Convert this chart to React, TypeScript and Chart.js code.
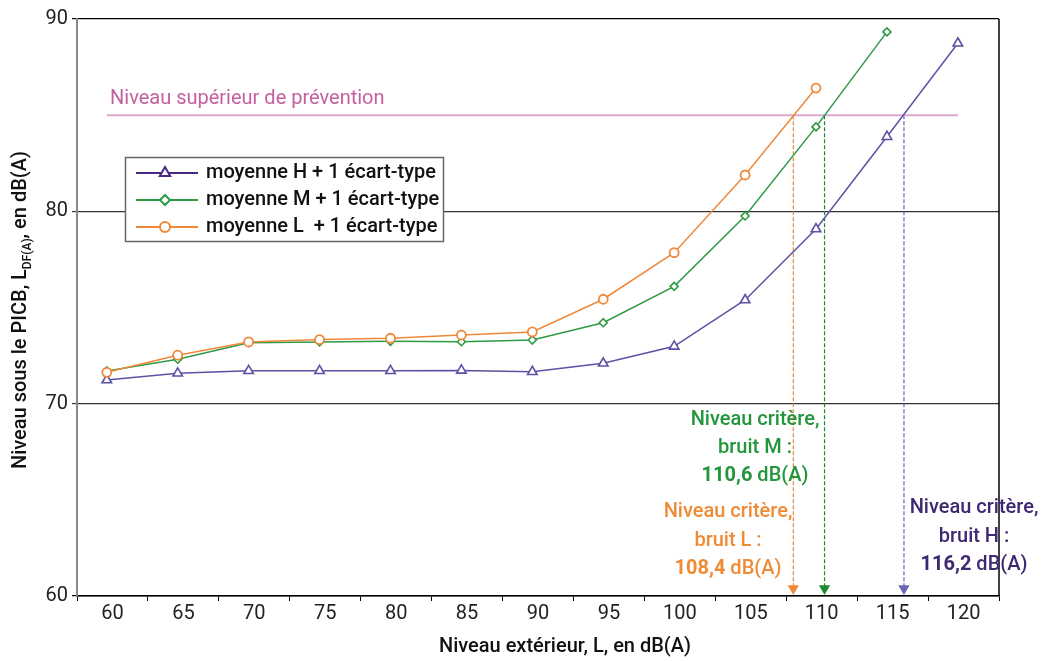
import React, { useEffect, useRef } from 'react';
import { Chart, registerables } from 'chart.js';

Chart.register(...registerables);

// ---- Data ----
const xValues = [60, 65, 70, 75, 80, 85, 90, 95, 100, 105, 110, 115, 120];
const xTickLabels = ['60', '65', '70', '75', '80', '85', '90', '95', '100', '105', '110', '115', '120'];
const yTickValues = [60, 70, 80, 90];

const hValues = [71.23, 71.58, 71.71, 71.71, 71.71, 71.73, 71.66, 72.1, 72.98, 75.39, 79.08, 83.88, 88.74];
const mValues = [71.7, 72.31, 73.17, 73.21, 73.24, 73.22, 73.31, 74.21, 76.1, 79.76, 84.39, 89.33];
const lValues = [71.63, 72.52, 73.21, 73.33, 73.4, 73.57, 73.73, 75.43, 77.85, 81.89, 86.41];

const seriesLabels = ['moyenne H + 1 écart-type', 'moyenne M + 1 écart-type', 'moyenne L  + 1 écart-type'];

const preventionLevel = 85;
const preventionRange = [60, 120];
const preventionLabel = 'Niveau supérieur de prévention';

const criticalL = 108.4;
const criticalM = 110.6;
const criticalH = 116.2;
const arrowLevel = 60.39;

const critLabelsM = ['Niveau critère,', 'bruit M :', '110,6', ' dB(A)'];
const critLabelsL = ['Niveau critère,', 'bruit L :', '108,4', ' dB(A)'];
const critLabelsH = ['Niveau critère,', 'bruit H :', '116,2', ' dB(A)'];

const xTitle = 'Niveau extérieur, L, en dB(A)';
const yTitleParts = ['Niveau sous le PICB, L', 'DF(A)', ', en dB(A)'];

// ---- Styles ----
const FONT = 'Roboto';
const colH = '#5b52a4';
const colM = '#2f9a45';
const colL = '#f0883a';
const colHLegend = '#4a2a80';
const colHText = '#3f2872';
const colMText = '#22963a';
const colLText = '#ef8a35';
const colPink = '#dba8cf';
const colPinkText = '#c45fa0';

const toPts = (vals: number[]) => vals.map((v, i) => ({ x: xValues[i], y: v }));

function drawMarker(ctx: CanvasRenderingContext2D, style: string, x: number, y: number, r: number, color: string) {
  ctx.save();
  ctx.beginPath();
  if (style === 'triangle') {
    const h = r;
    ctx.moveTo(x, y - h);
    ctx.lineTo(x + h * Math.sin(Math.PI * 2 / 3), y - h * Math.cos(Math.PI * 2 / 3));
    ctx.lineTo(x + h * Math.sin(Math.PI * 4 / 3), y - h * Math.cos(Math.PI * 4 / 3));
    ctx.closePath();
  } else if (style === 'diamond') {
    ctx.moveTo(x - r, y);
    ctx.lineTo(x, y - r);
    ctx.lineTo(x + r, y);
    ctx.lineTo(x, y + r);
    ctx.closePath();
  } else {
    ctx.arc(x, y, r, 0, Math.PI * 2);
  }
  ctx.fillStyle = '#ffffff';
  ctx.fill();
  ctx.lineWidth = 2;
  ctx.strokeStyle = color;
  ctx.stroke();
  ctx.restore();
}

function drawCrit(ctx: CanvasRenderingContext2D, labels: string[], cx: number, ys: number[], color: string) {
  ctx.save();
  ctx.fillStyle = color;
  ctx.textBaseline = 'middle';
  ctx.textAlign = 'center';
  ctx.font = `500 20px ${FONT}`;
  ctx.fillText(labels[0], cx, ys[0]);
  ctx.fillText(labels[1], cx, ys[1]);
  ctx.font = `bold 20px ${FONT}`;
  const wb = ctx.measureText(labels[2]).width;
  ctx.font = `500 20px ${FONT}`;
  const wn = ctx.measureText(labels[3]).width;
  const start = cx - (wb + wn) / 2;
  ctx.textAlign = 'left';
  ctx.font = `bold 20px ${FONT}`;
  ctx.fillText(labels[2], start, ys[2]);
  ctx.font = `500 20px ${FONT}`;
  ctx.fillText(labels[3], start + wb, ys[2]);
  ctx.restore();
}

const annotationPlugin = {
  id: 'annotations',
  afterDraw(chart: any) {
    const ctx: CanvasRenderingContext2D = chart.ctx;
    const area = chart.chartArea;
    ctx.save();
    // right border
    ctx.strokeStyle = '#000';
    ctx.lineWidth = 1.5;
    ctx.beginPath();
    ctx.moveTo(area.right, area.top);
    ctx.lineTo(area.right, area.bottom);
    ctx.stroke();

    // prevention label
    ctx.fillStyle = colPinkText;
    ctx.font = `20px ${FONT}`;
    ctx.textAlign = 'left';
    ctx.textBaseline = 'middle';
    ctx.fillText(preventionLabel, 110, 99);

    // x title
    ctx.fillStyle = '#111';
    ctx.font = `500 20px ${FONT}`;
    ctx.textAlign = 'center';
    ctx.fillText(xTitle, (area.left + area.right) / 2 + 27, 647);

    // y title with subscript
    ctx.save();
    ctx.translate(21, 310);
    ctx.rotate(-Math.PI / 2);
    ctx.textAlign = 'left';
    ctx.font = `500 20px ${FONT}`;
    const w1 = ctx.measureText(yTitleParts[0]).width;
    const w3 = ctx.measureText(yTitleParts[2]).width;
    ctx.font = `500 12px ${FONT}`;
    const w2 = ctx.measureText(yTitleParts[1]).width;
    let sx = -(w1 + w2 + w3) / 2;
    ctx.font = `500 20px ${FONT}`;
    ctx.fillText(yTitleParts[0], sx, 0);
    sx += w1;
    ctx.font = `500 12px ${FONT}`;
    ctx.fillText(yTitleParts[1], sx, 7);
    sx += w2;
    ctx.font = `500 20px ${FONT}`;
    ctx.fillText(yTitleParts[2], sx, 0);
    ctx.restore();

    // critical labels
    drawCrit(ctx, critLabelsM, 755, [420, 448, 476], colMText);
    drawCrit(ctx, critLabelsL, 728, [512, 541, 569], colLText);
    drawCrit(ctx, critLabelsH, 974, [508, 537, 565], colHText);

    // legend
    const bx = 125.5, by = 157.5, bw = 318, bh = 84;
    ctx.fillStyle = '#fff';
    ctx.fillRect(bx, by, bw, bh);
    ctx.strokeStyle = '#666';
    ctx.lineWidth = 1.5;
    ctx.strokeRect(bx, by, bw, bh);
    const rows = [
      { y: 173, color: colHLegend, style: 'triangle', r: 6, label: seriesLabels[0] },
      { y: 200, color: colM, style: 'diamond', r: 5, label: seriesLabels[1] },
      { y: 227, color: colL, style: 'circle', r: 5, label: seriesLabels[2] },
    ];
    rows.forEach((row) => {
      ctx.strokeStyle = row.color;
      ctx.lineWidth = 2;
      ctx.beginPath();
      ctx.moveTo(136, row.y);
      ctx.lineTo(198, row.y);
      ctx.stroke();
      drawMarker(ctx, row.style, 165, row.y, row.r, row.color);
      ctx.fillStyle = '#111';
      ctx.font = `500 20px ${FONT}`;
      ctx.textAlign = 'left';
      ctx.textBaseline = 'middle';
      ctx.fillText(row.label, 206, row.y);
    });
    ctx.restore();
  },
};

const critLine = (x: number, color: string) => ({
  data: [
    { x, y: preventionLevel },
    { x, y: arrowLevel },
  ],
  borderColor: color,
  backgroundColor: color,
  borderWidth: 1.2,
  borderDash: [4, 2],
  pointStyle: 'triangle',
  rotation: 180,
  pointRadius: [0, 6.5],
  pointBorderWidth: 0,
  pointBackgroundColor: color,
  fill: false,
  tension: 0,
});

export default function App() {
  const canvasRef = useRef<HTMLCanvasElement | null>(null);

  useEffect(() => {
    if (!canvasRef.current) return;
    Chart.defaults.font.family = FONT;
    const chart = new Chart(canvasRef.current, {
      type: 'line',
      data: {
        datasets: [
          {
            label: seriesLabels[2],
            data: toPts(lValues),
            borderColor: colL,
            borderWidth: 1.5,
            pointStyle: 'circle',
            pointRadius: 4.5,
            pointBorderWidth: 1.8,
            pointBackgroundColor: '#fff',
            pointBorderColor: colL,
            tension: 0,
          },
          {
            label: seriesLabels[1],
            data: toPts(mValues),
            borderColor: colM,
            borderWidth: 1.5,
            pointStyle: 'rectRot',
            pointRadius: 4,
            pointBorderWidth: 1.6,
            pointBackgroundColor: '#fff',
            pointBorderColor: colM,
            tension: 0,
          },
          {
            label: seriesLabels[0],
            data: toPts(hValues),
            borderColor: colH,
            borderWidth: 1.5,
            pointStyle: 'triangle',
            pointRadius: 5.5,
            pointBorderWidth: 1.6,
            pointBackgroundColor: '#fff',
            pointBorderColor: colH,
            tension: 0,
          },
          {
            label: 'prevention',
            data: [
              { x: preventionRange[0], y: preventionLevel },
              { x: preventionRange[1], y: preventionLevel },
            ],
            borderColor: colPink,
            borderWidth: 2,
            pointRadius: 0,
          },
          critLine(criticalL, colL),
          critLine(criticalM, '#1e8a30'),
          critLine(criticalH, '#6a64b4'),
        ] as any,
      },
      options: {
        animation: false,
        responsive: false,
        layout: { padding: { left: 0, top: 19, right: 43, bottom: 0 } },
        plugins: {
          legend: { display: false },
          tooltip: { enabled: false },
        },
        scales: {
          x: {
            type: 'linear',
            display: false,
            min: 57.9,
            max: 122.9,
          },
          xc: {
            type: 'category',
            position: 'bottom',
            labels: xTickLabels,
            offset: true,
            grid: {
              offset: true,
              drawOnChartArea: false,
              drawTicks: true,
              tickLength: 5,
              color: '#000',
              lineWidth: 1,
            },
            border: { color: '#000', width: 1.5 },
            ticks: {
              color: '#222',
              font: { size: 20, family: FONT },
              padding: 1,
              maxRotation: 0,
              autoSkip: false,
            },
            afterFit: (s: any) => {
              s.height = 65;
            },
          },
          y: {
            type: 'linear',
            min: yTickValues[0],
            max: yTickValues[yTickValues.length - 1],
            afterBuildTicks: (s: any) => {
              s.ticks = yTickValues.map((v) => ({ value: v }));
            },
            grid: {
              color: (c: any) => (c.tick && (c.tick.value === 90 || c.tick.value === 60) ? '#000' : '#333'),
              lineWidth: 1.2,
              tickLength: 5,
              drawTicks: true,
            },
            border: { color: '#888', width: 2 },
            ticks: {
              color: '#222',
              font: { size: 20, family: FONT },
              padding: 4,
            },
            afterFit: (s: any) => {
              s.width = 77;
            },
          },
        },
      } as any,
      plugins: [annotationPlugin],
    });
    return () => chart.destroy();
  }, []);

  return (
    <div style={{ position: 'absolute', left: 0, top: 0, width: 1042, height: 661, background: '#fff' }}>
      <canvas ref={canvasRef} width={1042} height={661} style={{ display: 'block' }} />
    </div>
  );
}
